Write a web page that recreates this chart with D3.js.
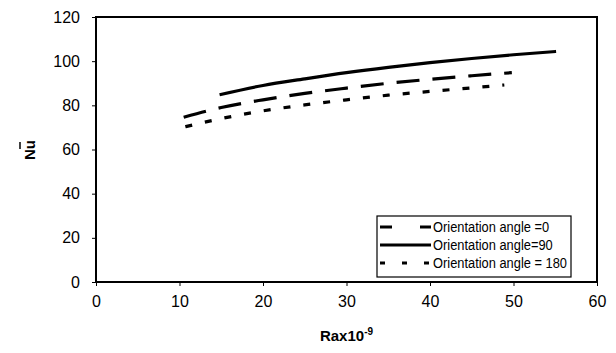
<!DOCTYPE html>
<html><head><meta charset="utf-8">
<script src="https://cdn.jsdelivr.net/npm/d3@7"></script>
<style>body{margin:0;background:#fff}svg{display:block}</style>
</head><body>
<script>
const xTicks = [0,10,20,30,40,50,60];
const yTicks = [0,20,40,60,80,100,120];
const seriesNames = ["Orientation angle =0","Orientation angle=90","Orientation angle = 180"];
const ra0 = [10.5,15,20,25,30,35,40,45,49.8];
const nu0 = [74.6,79,82.5,85.4,87.8,90,91.8,93.4,94.8];
const ra90 = [14.8,20,25,30,35,40,45,50,55.1];
const nu90 = [84.8,89,92,94.8,97.2,99.3,101.2,102.9,104.4];
const ra180 = [10.7,15,20,25,30,35,40,45,48.9];
const nu180 = [70.3,74,77.5,80.2,82.5,84.6,86.3,87.9,89.2];

const W=616,H=353;
const svg=d3.select("body").append("svg").attr("width",W).attr("height",H);
const x=d3.scaleLinear().domain([0,60]).range([96,597]);
const y=d3.scaleLinear().domain([0,120]).range([282,17]);
const font="Liberation Sans, Arial, sans-serif";

// frame
svg.append("rect").attr("x",x(0)).attr("y",y(120)).attr("width",x(60)-x(0)).attr("height",y(0)-y(120))
  .attr("fill","none").attr("stroke","#000").attr("stroke-width",2);

const xa=svg.append("g").attr("transform",`translate(0,${y(0)})`)
  .call(d3.axisBottom(x).tickValues(xTicks).tickSize(4).tickPadding(10).tickFormat(d3.format("d")));
const ya=svg.append("g").attr("transform",`translate(${x(0)},0)`)
  .call(d3.axisLeft(y).tickValues(yTicks).tickSize(4).tickPadding(12).tickFormat(d3.format("d")));
[xa,ya].forEach(a=>{a.select(".domain").remove();
  a.selectAll("text").attr("font-family",font).attr("font-size",16).attr("fill","#000");
  a.selectAll("line").attr("stroke","#000");});

// axis titles
const xt=svg.append("text").attr("x",(x(0)+x(60))/2).attr("y",341).attr("text-anchor","middle")
  .attr("font-family",font).attr("font-weight","bold").attr("font-size",15);
xt.append("tspan").text("Rax10");
xt.append("tspan").attr("dy",-6).attr("font-size",10).text("-9");

const yt=svg.append("g").attr("transform","translate(35,150) rotate(-90)");
yt.append("text").attr("x",0).attr("y",0).attr("text-anchor","middle")
  .attr("font-family",font).attr("font-weight","bold").attr("font-size",15).text("Nu");
yt.append("line").attr("x1",1).attr("x2",8).attr("y1",-15).attr("y2",-15).attr("stroke","#000").attr("stroke-width",1.5);

const dashes=["23,13",null,"7,13"];
const data=[[ra0,nu0],[ra90,nu90],[ra180,nu180]];
const line=d3.line().x(d=>x(d[0])).y(d=>y(d[1])).curve(d3.curveMonotoneX);
data.forEach((s,i)=>{
  const pts=s[0].map((r,j)=>[r,s[1][j]]);
  svg.append("path").attr("d",line(pts)).attr("fill","none").attr("stroke","#000")
    .attr("stroke-width",3.2).attr("stroke-dasharray",dashes[i]);
});

// legend
const lg=svg.append("g");
lg.append("rect").attr("x",377).attr("y",216).attr("width",194).attr("height",61)
  .attr("fill","#fff").attr("stroke","#000").attr("stroke-width",1.2);
const rows=[227,245,263];
const texts=[];
seriesNames.forEach((n,i)=>{
  lg.append("line").attr("x1",380).attr("x2",431).attr("y1",rows[i]).attr("y2",rows[i])
    .attr("stroke","#000").attr("stroke-width",3.2).attr("stroke-dasharray",i==0?"12,28,12":(i==2?"5,17,5,17,5":null));
  texts.push(lg.append("text").attr("x",433).attr("y",rows[i]+5).attr("font-family",font).attr("font-size",14)
    .text(n));
});
const widths=texts.map(t=>t.node().getComputedTextLength());
const k=134/d3.max(widths);
texts.forEach((t,i)=>t.attr("textLength",widths[i]*k).attr("lengthAdjust","spacingAndGlyphs"));
</script>
</body></html>
